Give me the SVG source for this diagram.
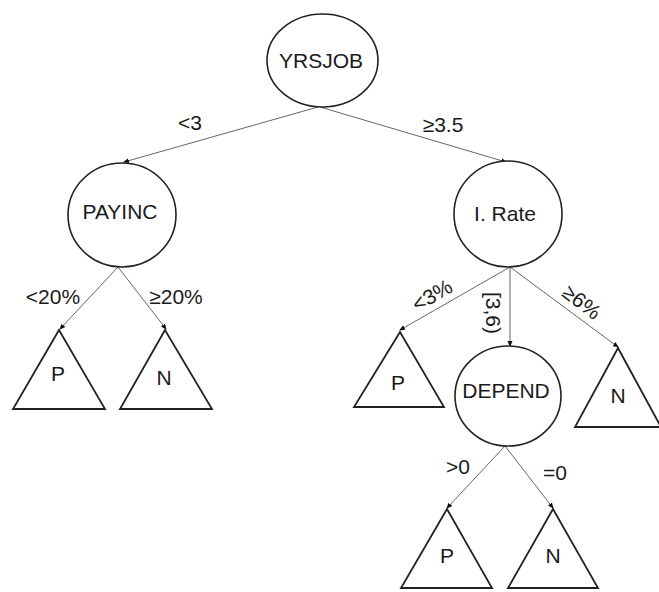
<svg xmlns="http://www.w3.org/2000/svg" width="659" height="592" viewBox="0 0 659 592">
<style>
.node{fill:#fff;stroke:#222;stroke-width:1.6}
.leaf{fill:#fff;stroke:#222;stroke-width:1.8}
.edge{stroke:#666;stroke-width:1;fill:none;marker-end:url(#ah)}
text{font-family:"Liberation Sans",Arial,sans-serif;font-size:21px;fill:#1a1a1a;text-anchor:middle;dominant-baseline:central}
</style>
<defs>
<marker id="ah" viewBox="0 0 6 6" refX="5" refY="3" markerWidth="6" markerHeight="6" markerUnits="userSpaceOnUse" orient="auto">
<path d="M0,0.5 L6,3 L0,5.5 Z" fill="#111"/>
</marker>
</defs>
<rect width="659" height="592" fill="#fff"/>
<g id="connectors">
<line class="edge" x1="318" y1="107" x2="124" y2="162"/>
<line class="edge" x1="320" y1="107" x2="506" y2="162"/>
<line class="edge" x1="118" y1="267" x2="60" y2="329"/>
<line class="edge" x1="118" y1="267" x2="166" y2="329"/>
<line class="edge" x1="510" y1="267" x2="400" y2="330"/>
<line class="edge" x1="510" y1="267" x2="510" y2="346"/>
<line class="edge" x1="510" y1="267" x2="618" y2="347"/>
<line class="edge" x1="505" y1="446" x2="447" y2="508"/>
<line class="edge" x1="505" y1="446" x2="553" y2="508"/>
<text x="190" y="122">&lt;3</text>
<text x="443" y="124">≥3.5</text>
<text x="53" y="296">&lt;20%</text>
<text x="176" y="296">≥20%</text>
<text x="432" y="295" transform="rotate(-30 432 295)">&lt;3%</text>
<text x="493" y="313" transform="rotate(90 493 313)">[3,6)</text>
<text x="582" y="302" transform="rotate(38 582 302)">≥6%</text>
<text x="458" y="466">&gt;0</text>
<text x="555" y="472">=0</text>
</g>
<g id="yrsjob"><ellipse class="node" cx="322.5" cy="60.5" rx="55.5" ry="46.5"/><text x="321" y="60">YRSJOB</text></g>
<g id="payinc"><ellipse class="node" cx="122" cy="215" rx="54" ry="52"/><text x="120" y="211">PAYINC</text></g>
<g id="irate"><ellipse class="node" cx="508" cy="214" rx="54" ry="53"/><text x="505" y="213">I. Rate</text></g>
<g id="depend"><ellipse class="node" cx="508" cy="396" rx="53" ry="50"/><text x="506" y="390">DEPEND</text></g>
<g id="leaf-p1"><polygon class="leaf" points="59,330 13,409 105,409"/><text x="58" y="373">P</text></g>
<g id="leaf-n1"><polygon class="leaf" points="165,330 120,409 212,409"/><text x="164" y="377">N</text></g>
<g id="leaf-p2"><polygon class="leaf" points="400,332 354,407 444,407"/><text x="398" y="382">P</text></g>
<g id="leaf-n2"><polygon class="leaf" points="618,348 575,427 661,427"/><text x="618" y="395">N</text></g>
<g id="leaf-p3"><polygon class="leaf" points="447,509 401,588 492,588"/><text x="447" y="555">P</text></g>
<g id="leaf-n3"><polygon class="leaf" points="553,509 508,588 598,588"/><text x="553" y="555">N</text></g>
</svg>
